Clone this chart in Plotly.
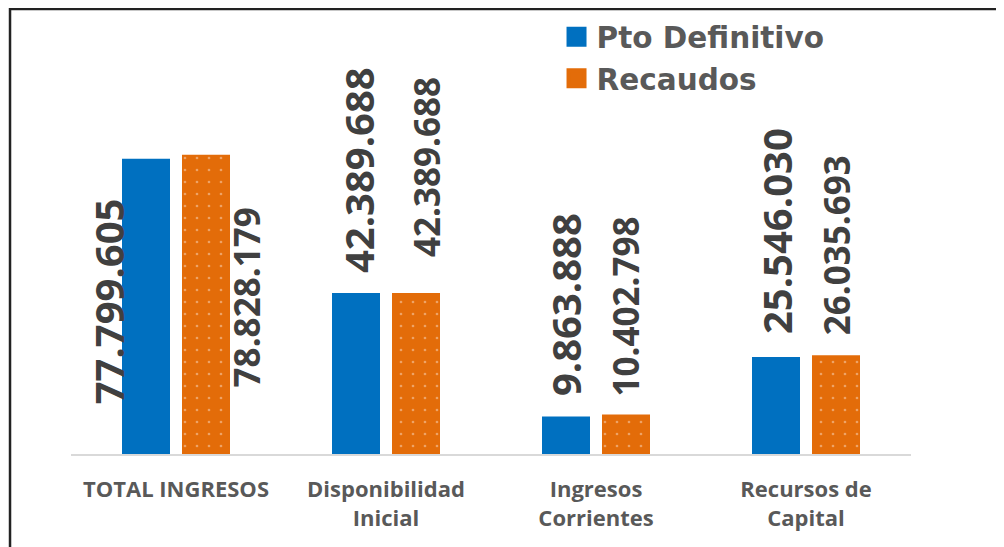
import plotly.graph_objects as go

# datos
categorias = ["TOTAL INGRESOS", "Disponibilidad<br>Inicial", "Ingresos<br>Corrientes", "Recursos de<br>Capital"]
pto_definitivo = [77799605, 42389688, 9863888, 25546030]
recaudos = [78828179, 42389688, 10402798, 26035693]

C_AZUL = "#0070C0"
C_NARANJA = "#E36C09"
C_TXT = "#404040"
C_MUTE = "#595959"

def fmt(v):
    return f"{v:,}".replace(",", ".")

fig = go.Figure()

fig.add_trace(go.Bar(
    x=categorias, y=pto_definitivo, name="Pto Definitivo",
    marker=dict(color=C_AZUL, line=dict(width=0)),
    showlegend=False
))
fig.add_trace(go.Bar(
    x=categorias, y=recaudos, name="Recaudos",
    marker=dict(color=C_NARANJA, line=dict(width=0),
                pattern=dict(shape=".", fgcolor="rgba(255,255,255,0.75)", bgcolor=C_NARANJA,
                             size=12, solidity=0.04)),
    showlegend=False
))

# leyenda con marcadores cuadrados grandes (plotly limita el tamano a 16, se agranda con el borde)
fig.add_trace(go.Scatter(x=[None], y=[None], mode="markers", name="Pto Definitivo",
                         marker=dict(symbol="square", size=16, color=C_AZUL,
                                     line=dict(color=C_AZUL, width=4))))
fig.add_trace(go.Scatter(x=[None], y=[None], mode="markers", name="Recaudos",
                         marker=dict(symbol="square", size=16, color=C_NARANJA,
                                     line=dict(color=C_NARANJA, width=4))))

# etiquetas de valores (rotadas)
# desplazamientos en px: (xshift, yshift, anclaje)
aj_pto = [(-38, 5, "mid"), (2, 18, "bottom"), (-1, 18, "bottom"), (0, 21, "bottom")]
aj_rec = [(40, 7, "mid"), (10, 34, "bottom"), (0, 16, "bottom"), (0, 18, "bottom")]

for cat, v, (dx, dy, anc) in zip(categorias, pto_definitivo, aj_pto):
    fig.add_annotation(
        x=cat, y=v / 2 if anc == "mid" else v, text=fmt(v), textangle=-90,
        showarrow=False, xshift=dx - 30, yshift=dy,
        yanchor="middle" if anc == "mid" else "bottom",
        font=dict(family="Open Sans", size=40, color=C_TXT, weight="bold")
    )
for cat, v, (dx, dy, anc) in zip(categorias, recaudos, aj_rec):
    fig.add_annotation(
        x=cat, y=v / 2 if anc == "mid" else v, text=fmt(v), textangle=-90,
        showarrow=False, xshift=dx + 30, yshift=dy,
        yanchor="middle" if anc == "mid" else "bottom",
        font=dict(family="Open Sans", size=35, color=C_TXT, weight="bold")
    )

# marco
fig.add_shape(type="rect", xref="paper", yref="paper",
              x0=-0.0726, x1=1.106, y0=-0.3, y1=0.9978,
              line=dict(color="#222222", width=2.5), layer="above")

# la pagina tiene 8px de margen en el body
fig.update_layout(
    width=996, height=539,
    paper_bgcolor="#FFFFFF", plot_bgcolor="#FFFFFF",
    margin=dict(l=63, r=93, t=0, b=93),
    barmode="group", bargap=0.4286, bargroupgap=0.2,
    font=dict(family="Open Sans", color=C_MUTE),
    legend=dict(x=0.578, y=0.993, xanchor="left", yanchor="top",
                font=dict(family="DejaVu Sans", size=29.5, color=C_MUTE, weight="bold"),
                bgcolor="rgba(0,0,0,0)", itemsizing="trace"),
    showlegend=True
)
fig.update_xaxes(type="category", showline=True, linecolor="#D9D9D9", linewidth=2,
                 ticks="", showgrid=False, ticklabelstandoff=15,
                 tickfont=dict(family="Open Sans", size=22, color=C_MUTE, weight="bold"))
fig.update_yaxes(visible=False, range=[0, 117.5e6], showgrid=False, zeroline=False)

fig.write_html("out.html")
